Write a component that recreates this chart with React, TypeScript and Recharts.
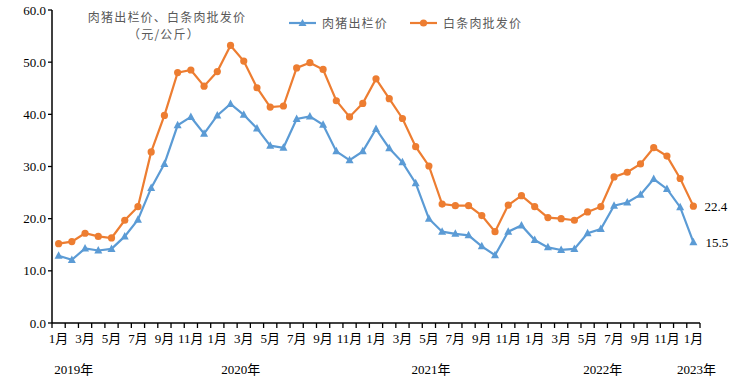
import React from 'react';
import { LineChart, Line, XAxis, YAxis, LabelList } from 'recharts';

const categories = [
  '2019-01','2019-02','2019-03','2019-04','2019-05','2019-06','2019-07','2019-08','2019-09','2019-10','2019-11','2019-12',
  '2020-01','2020-02','2020-03','2020-04','2020-05','2020-06','2020-07','2020-08','2020-09','2020-10','2020-11','2020-12',
  '2021-01','2021-02','2021-03','2021-04','2021-05','2021-06','2021-07','2021-08','2021-09','2021-10','2021-11','2021-12',
  '2022-01','2022-02','2022-03','2022-04','2022-05','2022-06','2022-07','2022-08','2022-09','2022-10','2022-11','2022-12',
  '2023-01',
];

const monthLabels = [
  '1月','2月','3月','4月','5月','6月','7月','8月','9月','10月','11月','12月',
  '1月','2月','3月','4月','5月','6月','7月','8月','9月','10月','11月','12月',
  '1月','2月','3月','4月','5月','6月','7月','8月','9月','10月','11月','12月',
  '1月','2月','3月','4月','5月','6月','7月','8月','9月','10月','11月','12月',
  '1月',
];

const hogPrice = [
  12.9, 12.1, 14.3, 13.9, 14.2, 16.6, 19.8, 25.9, 30.5, 37.9, 39.5, 36.3,
  39.8, 42.0, 39.9, 37.3, 34.0, 33.6, 39.1, 39.6, 38.0, 32.9, 31.2, 32.9,
  37.2, 33.5, 30.8, 26.8, 20.0, 17.5, 17.1, 16.8, 14.7, 13.0, 17.5, 18.7,
  15.9, 14.5, 14.0, 14.2, 17.2, 18.0, 22.5, 23.1, 24.6, 27.6, 25.7, 22.2,
  15.5,
];

const porkPrice = [
  15.2, 15.6, 17.2, 16.6, 16.3, 19.7, 22.3, 32.8, 39.8, 48.0, 48.5, 45.4,
  48.2, 53.2, 50.2, 45.1, 41.4, 41.6, 48.9, 49.9, 48.6, 42.6, 39.5, 42.1,
  46.8, 43.0, 39.2, 33.8, 30.1, 22.8, 22.5, 22.5, 20.6, 17.5, 22.6, 24.4,
  22.3, 20.2, 20.0, 19.7, 21.3, 22.3, 28.0, 28.9, 30.5, 33.6, 32.0, 27.7,
  22.4,
];

const yTicks = [0, 10, 20, 30, 40, 50, 60];
const yearLabels = ['2019年', '2020年', '2021年', '2022年', '2023年'];
const yearLabelIndex = [1, 14, 28, 41, 48];

const seriesNames = ['肉猪出栏价', '白条肉批发价'];

const data = categories.map((c, i) => ({
  cat: c,
  month: monthLabels[i],
  hog: hogPrice[i],
  pork: porkPrice[i],
}));

const W = 750;
const H = 382;
const M = { top: 10, right: 50, left: 0, bottom: 0 };
const Y_W = 52;
const BAND = (W - M.left - M.right - Y_W) / categories.length;

const BLUE = '#5B9BD5';
const ORANGE = '#ED7D31';
const SERIF = '"Liberation Serif", "Times New Roman", "Noto Sans CJK SC", serif';
const CJK = '"Noto Sans CJK SC", sans-serif';

const MonthTick = (props: any) => {
  const { x, y, payload } = props;
  const i = payload.index;
  const half = BAND / 2;
  const last = i === categories.length - 1;
  const yi = yearLabelIndex.indexOf(i);
  return (
    <g>
      <line x1={x - half} x2={x - half} y1={y} y2={y + 5} stroke="#000" strokeWidth={1.3} />
      {last && <line x1={x + half} x2={x + half} y1={y} y2={y + 5} stroke="#000" strokeWidth={1.3} />}
      {i % 2 === 0 && (
        <text x={x} y={y + 20} textAnchor="middle" fontSize={13} fontFamily={SERIF} fill="#000">
          {monthLabels[i]}
        </text>
      )}
      {yi >= 0 && (
        <text x={x + (i === 48 ? 3 : i === 14 ? -3 : 2)} y={y + 51} textAnchor="middle" fontSize={13} fontFamily={SERIF} fill="#000">
          {yearLabels[yi]}
        </text>
      )}
    </g>
  );
};

const TriangleDot = (props: any) => {
  const { cx, cy, index } = props;
  if (cx == null || cy == null) return <g key={index} />;
  return (
    <polygon
      key={index}
      points={`${cx},${cy - 4.5} ${cx - 4},${cy + 3} ${cx + 4},${cy + 3}`}
      fill={BLUE}
    />
  );
};

const CircleDot = (props: any) => {
  const { cx, cy, index } = props;
  if (cx == null || cy == null) return <g key={index} />;
  return <circle key={index} cx={cx} cy={cy} r={3.6} fill={ORANGE} />;
};

const EndLabel = (dx: number) => (props: any) => {
  const { x, y, value, index } = props;
  if (index !== categories.length - 1) return null;
  return (
    <text x={x + dx} y={y} dy={4.5} fontSize={13} fontFamily={SERIF} fill="#000">
      {Number(value).toFixed(1)}
    </text>
  );
};

const LegendBox = () => (
  <div style={{ position: 'absolute', top: 15, left: 288, display: 'flex', alignItems: 'center', fontFamily: CJK, fontSize: 12, color: '#595959', letterSpacing: 1.2, lineHeight: '16px' }}>
    <svg width={30} height={10} style={{ marginRight: 4 }}>
      <line x1={1} x2={28} y1={5} y2={5} stroke={BLUE} strokeWidth={2.2} />
      <polygon points="14.5,1 10.5,8 18.5,8" fill={BLUE} />
    </svg>
    <span style={{ marginRight: 21 }}>{seriesNames[0]}</span>
    <svg width={30} height={10} style={{ marginRight: 4 }}>
      <line x1={1} x2={28} y1={5} y2={5} stroke={ORANGE} strokeWidth={2.2} />
      <circle cx={14.5} cy={5} r={3.6} fill={ORANGE} />
    </svg>
    <span>{seriesNames[1]}</span>
  </div>
);

export default function App() {
  return (
    <div style={{ position: 'absolute', left: 0, top: 0, width: W, height: H, background: '#fff' }}>
      <LineChart width={W} height={H} data={data} margin={M}>
        <XAxis
          dataKey="cat"
          scale="point"
          padding={{ left: BAND / 2, right: BAND / 2 }}
          interval={0}
          tickLine={false}
          tickSize={0}
          tickMargin={0}
          height={H - 323 - M.bottom}
          axisLine={{ stroke: '#000', strokeWidth: 1.5 }}
          tick={<MonthTick />}
        />
        <YAxis
          domain={[0, 60]}
          ticks={yTicks}
          width={Y_W}
          tickSize={4}
          tickMargin={2}
          interval={0}
          axisLine={{ stroke: '#000', strokeWidth: 1.5 }}
          tickLine={{ stroke: '#000', strokeWidth: 1.3 }}
          tick={{ fontSize: 13, fontFamily: SERIF, fill: '#000' }}
          tickFormatter={(v: number) => v.toFixed(1)}
        />
        <Line
          dataKey="hog"
          name={seriesNames[0]}
          stroke={BLUE}
          strokeWidth={2.2}
          dot={TriangleDot}
          activeDot={false}
          isAnimationActive={false}
        >
          <LabelList dataKey="hog" content={EndLabel(12)} />
        </Line>
        <Line
          dataKey="pork"
          name={seriesNames[1]}
          stroke={ORANGE}
          strokeWidth={2.2}
          dot={CircleDot}
          activeDot={false}
          isAnimationActive={false}
        >
          <LabelList dataKey="pork" content={EndLabel(11)} />
        </Line>
      </LineChart>
      <LegendBox />
      <div style={{ position: 'absolute', left: 86, top: 8, width: 162, textAlign: 'center', fontFamily: CJK, fontSize: 12, color: '#595959', letterSpacing: 1.2, lineHeight: '17px' }}>
        <div>肉猪出栏价、白条肉批发价</div>
        <div style={{ marginLeft: -6 }}>（元/公斤）</div>
      </div>
    </div>
  );
}
